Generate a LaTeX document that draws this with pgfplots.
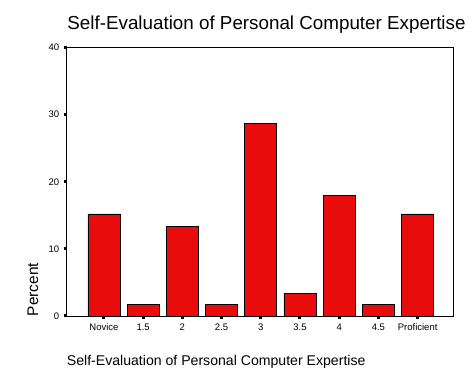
\documentclass[border=0pt]{standalone}
\usepackage{pgfplots}
\pgfplotsset{compat=1.18}
\usepackage{fontspec}
\setmainfont{Liberation Sans}
\definecolor{barred}{RGB}{232,12,12}
\begin{document}
\begin{tikzpicture}[x=1pt,y=1pt]
\path[use as bounding box] (0pt,0pt) rectangle (473pt,379pt);
\begin{axis}[
  at={(66.7pt,63pt)}, anchor=south west,
  scale only axis, width=386.6pt, height=268.5pt,
  xmin=-0.95, xmax=8.91, ymin=0, ymax=40,
  xtick={0,1,2,3,4,5,6,7,8},
  xticklabels={Novice,1.5,2,2.5,3,3.5,4,4.5,Proficient},
  ytick={0,10,20,30,40},
  tick align=outside, major tick length=3pt,
  tick style={line width=3pt, black},
  xtick pos=bottom, ytick pos=left,
  axis line style={line width=0.9pt},
  /pgf/number format/assume math mode=true,
  ticklabel style={font=\fontsize{9.5}{11}\selectfont},
  yticklabel style={xshift=-1pt},
  xticklabel style={yshift=-1pt},
  ybar, bar width=32pt,
]
\addplot[fill=barred, draw=black, line width=0.8pt] coordinates {
(0,15.2) (1,1.7) (2,13.3) (3,1.7) (4,28.7) (5,3.4) (6,18.0) (7,1.7) (8,15.2)};
\end{axis}
\node[anchor=base, inner sep=0pt, font=\fontsize{18.8}{22}\selectfont] at (266.5pt,349.5pt) {Self-Evaluation of Personal Computer Expertise};
\node[anchor=base west, inner sep=0pt, font=\fontsize{14.1}{17}\selectfont] at (66.7pt,13pt) {Self-Evaluation of Personal Computer Expertise};
\node[anchor=base, rotate=90, inner sep=0pt, font=\fontsize{15.4}{18}\selectfont] at (38pt,89.5pt) {Percent};
\end{tikzpicture}
\end{document}
